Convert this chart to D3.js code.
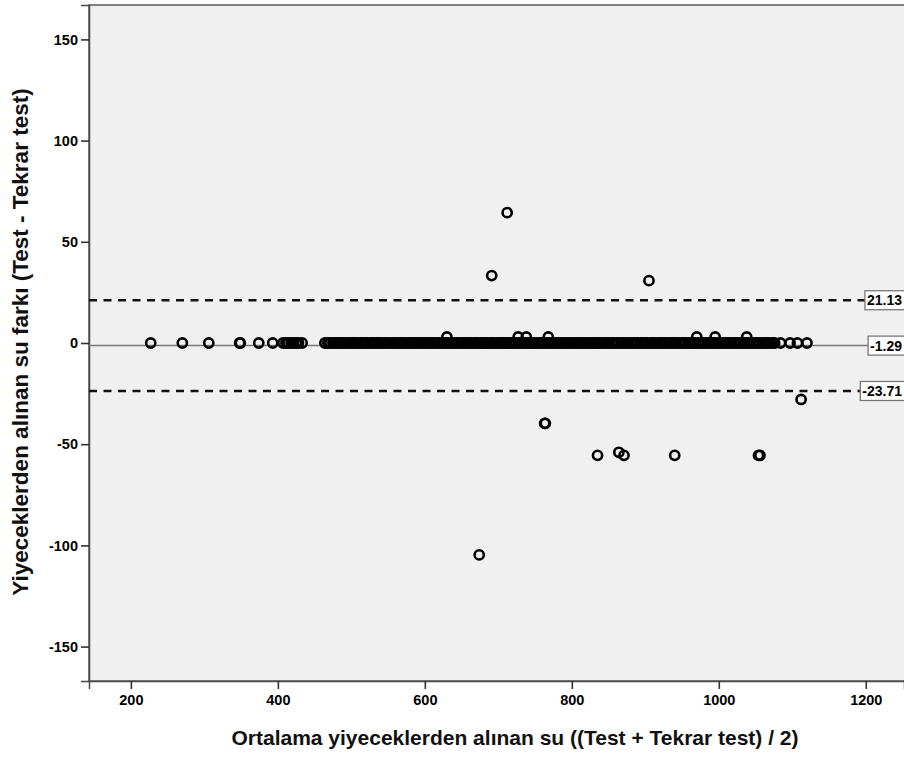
<!DOCTYPE html>
<html>
<head>
<meta charset="utf-8">
<script src="https://cdn.jsdelivr.net/npm/d3@7"></script>
<style>
  body { margin: 0; background: #fff; }
  text { font-family: "Liberation Sans", Arial, sans-serif; }
</style>
</head>
<body>
<svg id="chart" width="904" height="758"></svg>
<script>
"use strict";

// means (x) of cases with zero difference
const zeroMeans = [227, 270, 306, 348, 349, 374, 393, 407, 411, 414, 418, 421, 425, 428, 433, 464,
  468, 471, 475, 478, 481, 484, 487, 490, 494, 497, 500, 503, 506, 509, 513, 516, 519,
  522, 526, 529, 532, 535, 538, 541, 545, 548, 552, 556, 559, 562, 566, 569, 572,
  575, 579, 582, 585, 588, 591, 594, 598, 601, 604, 607, 610, 613, 617, 620, 624,
  627, 630, 634, 637, 640, 643, 646, 650, 653, 656, 659, 662, 666, 669, 672, 676,
  679, 682, 685, 689, 692, 695, 699, 702, 705, 708, 711, 715, 718, 721, 724, 728,
  731, 734, 738, 741, 744, 747, 750, 754, 757, 760, 763, 767, 770, 773, 776, 780,
  783, 786, 790, 793, 796, 800, 803, 806, 809, 812, 816, 819, 822, 826, 829, 832,
  835, 838, 842, 845, 848, 851, 855, 858, 861, 864, 868, 871, 874, 877, 881, 884,
  887, 890, 894, 897, 900, 903, 907, 910, 913, 917, 920, 923, 926, 929, 933, 936,
  939, 942, 946, 949, 952, 955, 959, 962, 965, 968, 972, 975, 978, 981, 985, 988,
  991, 994, 998, 1001, 1004, 1008, 1011, 1014, 1017, 1021, 1024, 1027, 1030, 1034,
  1037, 1040, 1043, 1047, 1050, 1053, 1056, 1060, 1063, 1066, 1069, 1073,
  1076, 1084, 1097, 1107, 1120];

// other cases: mean and difference
const otherMeans = [630, 727, 738, 768, 970, 995, 1038,
  712, 691, 905, 1112, 835, 864, 871, 940, 1054, 1056, 763, 764, 674];
const otherDiffs = [3, 3, 3, 3, 3, 3, 3,
  64.4, 33.3, 30.8, -27.9, -55.5, -54, -55.5, -55.5, -55.5, -55.5, -39.7, -39.7, -104.7];

const refValues = [21.13, -1.29, -23.71];
const refLabels = ["21.13", "-1.29", "-23.71"];
const refDashed = [true, false, true];

const xTicks = [200, 400, 600, 800, 1000, 1200];
const yTicks = [-150, -100, -50, 0, 50, 100, 150];

const xTitle = "Ortalama yiyeceklerden alınan su ((Test + Tekrar test) / 2)";
const yTitle = "Yiyeceklerden alınan su farkı (Test - Tekrar test)";

const svg = d3.select('#chart');
const plotLeft = 89, plotTop = 5, plotRight = 904, plotBottom = 681;

const x = d3.scaleLinear().domain([143, 1252]).range([plotLeft, plotRight]);
const y = d3.scaleLinear().domain([-167, 167]).range([plotBottom, plotTop]);

svg.append('rect')
  .attr('x', plotLeft).attr('y', plotTop)
  .attr('width', plotRight - plotLeft + 10).attr('height', plotBottom - plotTop)
  .attr('fill', '#f0f0f0')
  .attr('stroke', '#5a5a5a')
  .attr('stroke-width', 1.5);

// axes
const xAxis = svg.append('g')
  .attr('transform', `translate(0,${plotBottom})`)
  .call(d3.axisBottom(x).tickValues(xTicks).tickFormat(d => String(d)).tickSize(8).tickPadding(6));
const yAxis = svg.append('g')
  .attr('transform', `translate(${plotLeft},0)`)
  .call(d3.axisLeft(y).tickValues(yTicks).tickFormat(d => String(d)).tickSize(8).tickPadding(3));

[xAxis, yAxis].forEach(g => {
  g.select('.domain').attr('stroke', '#4a4a4a').attr('stroke-width', 1.5);
  g.selectAll('.tick line').attr('stroke', '#333').attr('stroke-width', 1.6);
  g.selectAll('.tick text')
    .attr('fill', '#000')
    .attr('font-size', 14.5)
    .attr('font-weight', 'bold')
    .attr('font-family', '"Liberation Sans", Arial, sans-serif');
});

// reference lines with labels
const refs = svg.append('g');
refValues.forEach((v, i) => {
  const g = refs.append('g');
  const line = g.append('line')
    .attr('x1', plotLeft).attr('y1', y(v)).attr('y2', y(v))
    .attr('stroke', refDashed[i] ? '#111' : '#777')
    .attr('stroke-width', refDashed[i] ? 2.4 : 1.5)
    .attr('stroke-dasharray', refDashed[i] ? '8,6.5' : null);
  const txt = g.append('text')
    .attr('y', y(v))
    .attr('dy', '0.36em')
    .attr('font-size', 14)
    .attr('font-weight', 'bold')
    .attr('fill', '#000')
    .text(refLabels[i]);
  const w = txt.node().getComputedTextLength();
  const textRight = 902;
  const bx = textRight - w - 2;
  g.insert('rect', 'text')
    .attr('x', bx).attr('y', y(v) - 9.5)
    .attr('width', w + 8).attr('height', 19)
    .attr('fill', '#fff')
    .attr('stroke', '#777')
    .attr('stroke-width', 1.3);
  txt.attr('x', bx + 2);
  line.attr('x2', bx);
});

// points
const pts = svg.append('g')
  .attr('fill', 'none')
  .attr('stroke', '#000')
  .attr('stroke-width', 2.6);

pts.selectAll('circle.z')
  .data(zeroMeans)
  .enter().append('circle')
    .attr('class', 'z')
    .attr('cx', d => x(d))
    .attr('cy', y(0))
    .attr('r', 4.6);

pts.selectAll('circle.o')
  .data(otherMeans.map((m, i) => ({ m, d: otherDiffs[i] })))
  .enter().append('circle')
    .attr('class', 'o')
    .attr('cx', d => x(d.m))
    .attr('cy', d => y(d.d))
    .attr('r', 4.6);

// titles
svg.append('text')
  .attr('x', 515).attr('y', 745)
  .attr('text-anchor', 'middle')
  .attr('font-size', 21)
  .attr('font-weight', 'bold')
  .attr('fill', '#111')
  .text(xTitle);

svg.append('text')
  .attr('transform', `translate(28,342) rotate(-90)`)
  .attr('text-anchor', 'middle')
  .attr('font-size', 22.5)
  .attr('font-weight', 'bold')
  .attr('fill', '#111')
  .text(yTitle);
</script>
</body>
</html>
